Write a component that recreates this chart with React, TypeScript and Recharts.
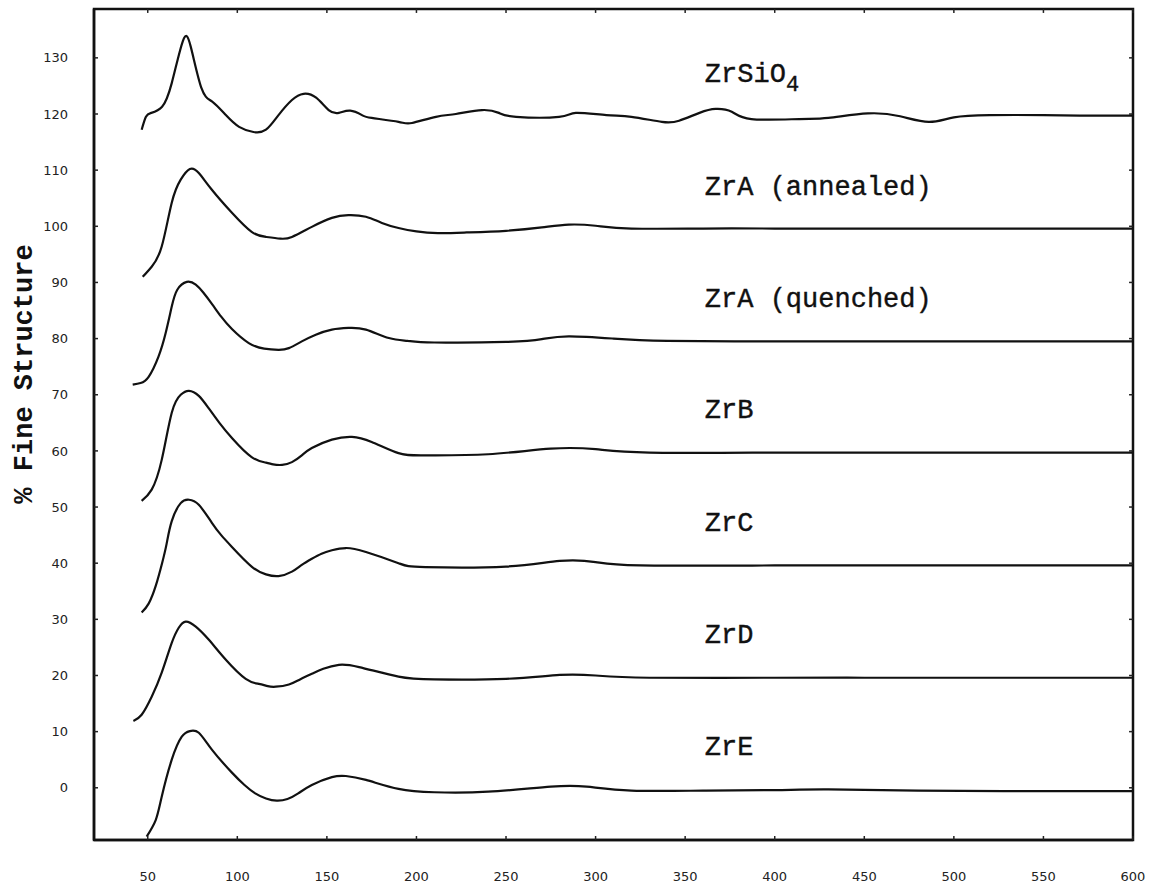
import { LineChart, Line, XAxis, YAxis, ReferenceDot, ReferenceArea, ReferenceLine } from 'recharts';

type Pt = { e: number; v: number };

const xTicks = [50, 100, 150, 200, 250, 300, 350, 400, 450, 500, 550, 600];
const yTicks = [0, 10, 20, 30, 40, 50, 60, 70, 80, 90, 100, 110, 120, 130];
const xDomain: [number, number] = [20, 600];
const yDomain: [number, number] = [-9.3, 138.7];

const pts = (rows: number[][]): Pt[] => rows.map(([e, v]) => ({ e, v }));

// each curve is drawn shifted up by 20% from the one below it
const zrSiO4 = pts([
  [46.6, 117.2], [49, 119.5], [52, 120.2], [58, 121.3], [63.4, 125.5], [69.6, 133],
  [74, 132], [80, 124.6], [86, 122.2], [93.6, 119.8], [101, 117.7], [109, 116.8],
  [116, 117.2], [123, 119.8], [130.5, 122.5], [137, 123.6], [144, 122.9], [151, 120.7],
  [156.7, 120.2], [163, 120.6], [169.6, 119.8], [175, 119.3], [190, 118.6], [197.5, 118.4],
  [210.9, 119.5], [222, 120], [236.6, 120.7], [246, 120.2], [255.6, 119.5], [279.6, 119.5],
  [289, 120.2], [306, 119.8], [320, 119.5], [337, 118.6], [346.6, 118.8], [358, 120.2],
  [367, 120.9], [376, 120.4], [387, 119.1], [413.7, 119.1], [430, 119.3], [452, 120.1],
  [470, 119.6], [486, 118.6], [500, 119.4], [520, 119.8], [550, 119.8], [575, 119.7], [600, 119.7],
]);

const zrAAnnealed = pts([
  [47.2, 91], [52.2, 92.8], [57.8, 96.4], [63.4, 104.2], [68.4, 108.3], [73.5, 110.2],
  [78.5, 109.5], [85.8, 106.5], [97, 102.4], [108, 99], [116, 98.1], [124, 97.8],
  [130.5, 98.1], [141.6, 99.9], [152.8, 101.5], [162, 102], [171.8, 101.7], [180.7, 100.6],
  [190, 99.7], [200, 99.1], [212, 98.8], [228, 98.9], [250, 99.2], [270, 99.8],
  [285, 100.3], [300, 100.1], [320, 99.6], [360, 99.6], [400, 99.6], [450, 99.6],
  [500, 99.6], [550, 99.6], [600, 99.6],
]);

const zrAQuenched = pts([
  [41.6, 71.8], [46, 72.1], [50.5, 73.2], [56, 76.8], [60, 81], [63.4, 85.7], [66.5, 88.7],
  [71.8, 90.1], [76.8, 89.6], [81, 88.2], [86, 86.1], [91, 83.9], [97, 81.7], [106.4, 79.2],
  [115, 78.2], [123, 78], [128.8, 78.3], [136, 79.5], [143.8, 80.7], [152.8, 81.6], [162, 81.9],
  [171.8, 81.6], [184.6, 80.1], [195, 79.6], [210, 79.3], [250, 79.4], [270, 79.9], [285, 80.4],
  [310, 80], [340, 79.6], [400, 79.5], [450, 79.5], [500, 79.5], [550, 79.5], [600, 79.5],
]);

const zrB = pts([
  [46.6, 51.1], [52.2, 53.1], [57.8, 58.4], [63.4, 66.8], [68.4, 70], [73, 70.7],
  [78.5, 69.8], [84, 67.6], [90, 65], [97, 62.3], [108, 58.9], [116, 57.9], [120, 57.6],
  [125, 57.5], [130.5, 58], [136, 59.2], [141.6, 60.5], [152.8, 62], [164, 62.5], [175, 61.6],
  [190, 59.6], [205, 59.2], [240, 59.4], [275, 60.4], [300, 60.3], [330, 59.7], [400, 59.7],
  [450, 59.7], [500, 59.7], [550, 59.7], [600, 59.7],
]);

const zrC = pts([
  [46.6, 31.2], [50.5, 32.8], [54.5, 36], [58, 40], [60.5, 43.4], [63.4, 47.5], [68.4, 50.7],
  [73, 51.3], [78.5, 50.4], [85.8, 47.2], [91, 45], [97, 42.9], [108, 39.4], [116, 38],
  [123, 37.7], [130.5, 38.5], [136, 39.7], [141.6, 40.8], [147, 41.7], [152.8, 42.3],
  [160.6, 42.7], [171.8, 42], [190, 40], [205, 39.3], [250, 39.4], [280, 40.4], [300, 40.2],
  [325, 39.6], [400, 39.6], [450, 39.6], [500, 39.6], [550, 39.6], [600, 39.6],
]);

const zrD = pts([
  [42, 11.9], [46.6, 13], [52.2, 16.2], [57.8, 20.5], [63.4, 25.8], [67.3, 28.5],
  [71.2, 29.6], [76.8, 28.7], [84, 26.4], [93.6, 22.8], [104.7, 19.4], [112, 18.5],
  [117, 18.1], [121.5, 18], [128.8, 18.4], [135, 19.3], [141.6, 20.3], [148, 21.2],
  [156.7, 21.9], [168, 21.5], [190, 19.8], [210, 19.3], [250, 19.4], [280, 20.1], [300, 20],
  [330, 19.6], [400, 19.6], [450, 19.6], [500, 19.6], [550, 19.6], [600, 19.6],
]);

const zrE = pts([
  [49.4, -8.7], [54.5, -5.7], [57.8, -1.6], [63.4, 5], [69, 9.1], [73.5, 10.1],
  [78.5, 9.8], [85.8, 6.8], [97, 2.7], [104, 0.5], [110, -1], [116, -1.9], [122, -2.3],
  [128, -2], [134, -1], [141.6, 0.5], [152.8, 1.9], [160.6, 2.1], [171.8, 1.4], [190, -0.2],
  [210, -0.8], [240, -0.7], [275, 0.2], [295, 0.2], [320, -0.5], [360, -0.5], [400, -0.4],
  [430, -0.3], [480, -0.5], [540, -0.6], [600, -0.6],
]);

const series = [zrSiO4, zrAAnnealed, zrAQuenched, zrB, zrC, zrD, zrE];

const names = ['ZrSiO', 'ZrA (annealed)', 'ZrA (quenched)', 'ZrB', 'ZrC', 'ZrD', 'ZrE'];
const nameAnchors = [
  { e: 361, v: 125.7 },
  { e: 361, v: 105.6 },
  { e: 361, v: 85.6 },
  { e: 361, v: 65.8 },
  { e: 361, v: 45.8 },
  { e: 361, v: 25.8 },
  { e: 361, v: 5.8 },
];

const mono = '"Liberation Mono", "DejaVu Sans Mono", monospace';
const tickStyle = { fontSize: 13, fill: '#222', fontFamily: '"DejaVu Sans", sans-serif' };
const frame = { stroke: '#111', strokeWidth: 2.5 };
const tickMark = { stroke: '#222', strokeWidth: 1.5 };

function SeriesName({ cx, cy, text, sub }: { cx?: number; cy?: number; text: string; sub?: boolean }) {
  return (
    <text x={cx} y={cy} fontFamily={mono} fontSize={27} fill="#111" stroke="#111" strokeWidth={0.4}>
      {text}
      {sub && (
        <tspan fontSize={22} dy={9}>
          4
        </tspan>
      )}
    </text>
  );
}

export default function App() {
  return (
    <div style={{ position: 'absolute', left: 0, top: 0, background: '#fff' }}>
      <LineChart width={1166} height={892} margin={{ top: 9, right: 33, bottom: 0, left: 0 }}>
        <XAxis
          type="number"
          dataKey="e"
          domain={xDomain}
          ticks={xTicks}
          height={52}
          axisLine={frame}
          tickLine={tickMark}
          tickSize={-4}
          tickMargin={36}
          tick={tickStyle}
          allowDataOverflow
        />
        <YAxis
          type="number"
          domain={yDomain}
          ticks={yTicks}
          width={94}
          axisLine={frame}
          tickLine={tickMark}
          tickSize={-4}
          tickMargin={30}
          tick={tickStyle}
          allowDataOverflow
          label={{
            content: () => (
              <text
                x={25}
                y={374}
                transform="rotate(-90 25 374)"
                textAnchor="middle"
                dominantBaseline="central"
                fontFamily={mono}
                fontWeight="bold"
                fontSize={27}
                fill="#111"
              >
                % Fine Structure
              </text>
            ),
          }}
        />
        {/* closed frame plus the small inward ticks on the top and right edges */}
        <ReferenceArea
          x1={xDomain[0]}
          x2={xDomain[1]}
          y1={yDomain[0]}
          y2={yDomain[1]}
          fill="none"
          stroke="#111"
          strokeWidth={2.5}
          ifOverflow="visible"
        />
        {xTicks.map((t) => (
          <ReferenceLine
            key={'tx' + t}
            segment={[{ x: t, y: yDomain[1] }, { x: t, y: yDomain[1] - 0.7 }]}
            stroke="#222"
            strokeWidth={1.5}
            ifOverflow="visible"
          />
        ))}
        {yTicks.map((t) => (
          <ReferenceLine
            key={'ty' + t}
            segment={[{ x: xDomain[1] - 2.2, y: t }, { x: xDomain[1], y: t }]}
            stroke="#222"
            strokeWidth={1.5}
            ifOverflow="visible"
          />
        ))}
        {series.map((d, i) => (
          <Line
            key={names[i]}
            data={d}
            dataKey="v"
            type="natural"
            stroke="#111"
            strokeWidth={2.2}
            dot={false}
            isAnimationActive={false}
          />
        ))}
        {nameAnchors.map((a, i) => (
          <ReferenceDot
            key={'n' + i}
            x={a.e}
            y={a.v}
            r={0}
            shape={(p: any) => <SeriesName cx={p.cx} cy={p.cy} text={names[i]} sub={i === 0} />}
          />
        ))}
      </LineChart>
    </div>
  );
}
